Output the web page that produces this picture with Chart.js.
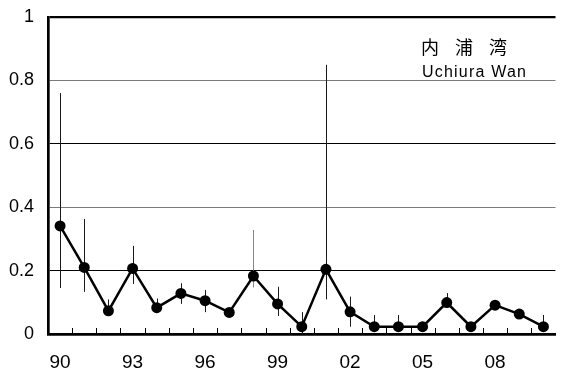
<!DOCTYPE html>
<html>
<head>
<meta charset="utf-8">
<script src="https://cdn.jsdelivr.net/npm/chart.js@4/dist/chart.umd.min.js"></script>
<style>
  html, body { margin: 0; padding: 0; background: #fff; }
  #wrap { width: 561px; height: 374px; }
</style>
</head>
<body>
<div id="wrap"><canvas id="c" width="561" height="374"></canvas></div>
<script>
// Survey years (two-digit labels), yearly mean and its range
const years = ['90','91','92','93','94','95','96','97','98','99','00',
               '01','02','03','04','05','06','07','08','09','10'];
const shownYears = ['90','93','96','99','02','05','08'];
const meanValues = [0.341, 0.210, 0.073, 0.207, 0.083, 0.128, 0.105, 0.068, 0.183, 0.095, 0.023,
                    0.204, 0.070, 0.023, 0.023, 0.023, 0.099, 0.023, 0.091, 0.063, 0.023];
const rangeHigh  = [0.760, 0.363, 0.109, 0.278, 0.112, 0.160, 0.139, 0.080, 0.328, 0.149, 0.069,
                    0.849, 0.118, 0.060, 0.060, 0.035, 0.129, 0.035, 0.100, 0.075, 0.060];
const rangeLow   = [0.145, 0.133, 0.060, 0.158, 0.067, 0.095, 0.069, 0.055, 0.147, 0.057, 0.000,
                    0.109, 0.023, 0.010, 0.010, 0.010, 0.082, 0.010, 0.080, 0.050, 0.010];
const yTicks = [0, 0.2, 0.4, 0.6, 0.8, 1];
const titleJa = ['内', '浦', '湾'];
const titleEn = 'Uchiura Wan';

// Vertical range bars for each year
const rangeBars = {
  id: 'rangeBars',
  beforeDatasetsDraw(chart) {
    const { ctx, scales: { x, y } } = chart;
    ctx.save();
    ctx.lineWidth = 1;
    years.forEach((yr, i) => {
      const px = Math.round(x.getPixelForValue(i)) + 0.5;
      ctx.strokeStyle = yr === '98' ? '#858585' : '#1a1a1a';
      ctx.beginPath();
      ctx.moveTo(px, y.getPixelForValue(rangeHigh[i]));
      ctx.lineTo(px, y.getPixelForValue(rangeLow[i]));
      ctx.stroke();
    });
    ctx.restore();
  }
};

// Short inward tick marks between years on the bottom axis, and the station name
const decorations = {
  id: 'decorations',
  afterDraw(chart) {
    const { ctx, chartArea, scales: { x } } = chart;
    ctx.save();
    ctx.strokeStyle = '#000';
    ctx.lineWidth = 1;
    for (let i = 0; i < years.length - 1; i++) {
      const px = Math.round((x.getPixelForValue(i) + x.getPixelForValue(i + 1)) / 2) + 0.5;
      ctx.beginPath();
      ctx.moveTo(px, chartArea.bottom);
      ctx.lineTo(px, chartArea.bottom - 6);
      ctx.stroke();
    }
    ctx.fillStyle = '#000';
    ctx.textBaseline = 'middle';
    ctx.textAlign = 'left';
    ctx.font = '18px "Noto Sans CJK JP"';
    const jaX = [421, 455, 489];
    titleJa.forEach((ch, i) => ctx.fillText(ch, jaX[i], 47.5));
    ctx.font = '16px "Liberation Sans", Arial, sans-serif';
    ctx.textBaseline = 'alphabetic';
    ctx.letterSpacing = '1.2px';
    ctx.fillText(titleEn, 422, 76.5);
    ctx.restore();
  }
};

new Chart(document.getElementById('c'), {
  type: 'line',
  data: {
    labels: years,
    datasets: [{
      data: meanValues,
      borderColor: '#000',
      borderWidth: 2.5,
      tension: 0,
      pointRadius: 5.5,
      pointHoverRadius: 5.5,
      pointBackgroundColor: '#000',
      pointBorderColor: '#000',
      pointBorderWidth: 0
    }]
  },
  options: {
    responsive: false,
    animation: false,
    devicePixelRatio: 1,
    layout: { padding: { top: 17, right: 0, left: 0, bottom: 0 } },
    plugins: { legend: { display: false }, tooltip: { enabled: false }, title: { display: false } },
    scales: {
      x: {
        type: 'category',
        offset: true,
        grid: { display: false, drawTicks: false },
        border: { display: true, color: '#000', width: 2.7 },
        ticks: {
          autoSkip: false,
          maxRotation: 0,
          padding: 17,
          color: '#000',
          font: { family: '"Liberation Sans", Arial, sans-serif', size: 19 },
          callback(v, i) { return shownYears.includes(years[i]) ? years[i] : ''; }
        },
        afterFit(s) { s.height = 40; s.paddingLeft = 0; s.paddingRight = 0; }
      },
      y: {
        min: 0,
        max: 1,
        afterBuildTicks(s) { s.ticks = yTicks.map(v => ({ value: v })); },
        grid: {
          drawTicks: false,
          color(c) {
            const v = Math.round(c.tick.value * 10) / 10;
            if (v === 0) return 'rgba(0,0,0,0)';
            if (v === 0.8 || v === 0.4) return '#7a7a7a';
            return '#000';
          },
          lineWidth(c) { return Math.round(c.tick.value * 10) === 10 ? 2.2 : 1; }
        },
        border: { display: true, color: '#000', width: 2.7 },
        ticks: {
          padding: 14,
          color: '#000',
          font: { family: '"Liberation Sans", Arial, sans-serif', size: 18 },
          callback(v) { return String(Math.round(v * 10) / 10); }
        },
        afterFit(s) { s.width = 48; s.paddingTop = 0; s.paddingBottom = 0; }
      }
    }
  },
  plugins: [rangeBars, decorations]
});
</script>
</body>
</html>
